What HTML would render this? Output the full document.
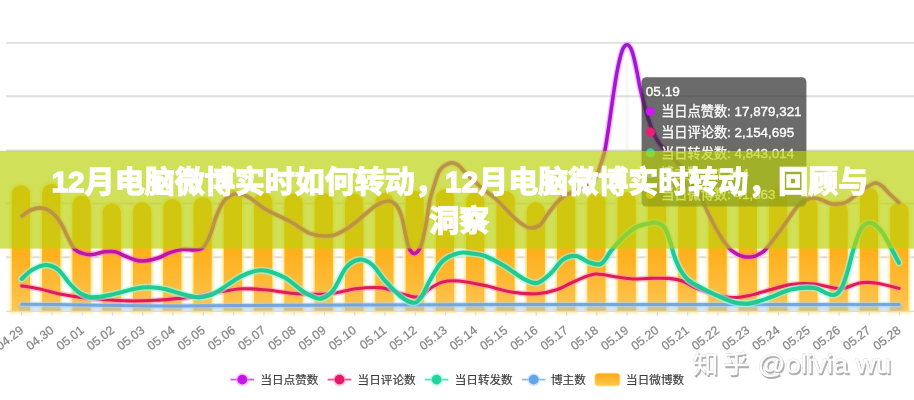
<!DOCTYPE html>
<html lang="zh"><head><meta charset="utf-8"><title>12月电脑微博实时如何转动</title>
<style>html,body{margin:0;padding:0;background:#fff;font-family:"Liberation Sans",sans-serif}body{width:914px;height:400px;overflow:hidden;position:relative}svg{display:block}.sr{position:absolute;left:0;top:150px;width:914px;height:98px;overflow:hidden;opacity:0;color:transparent;font-size:10px;line-height:12px;pointer-events:none}.sr h1,.sr p{margin:0;font-size:10px;font-weight:normal}</style></head><body>
<svg width="914" height="400" viewBox="0 0 914 400" font-family="'Liberation Sans',sans-serif">
<defs>
<linearGradient id="bar" x1="0" y1="0" x2="0" y2="1"><stop offset="0" stop-color="#ffad18"/><stop offset="0.55" stop-color="#ffb11e"/><stop offset="0.82" stop-color="#fdbc3c"/><stop offset="1" stop-color="#fcc858"/></linearGradient>
<linearGradient id="lg" x1="0" y1="0" x2="0" y2="1"><stop offset="0" stop-color="#ffa91a"/><stop offset="1" stop-color="#ffc84a"/></linearGradient>
<linearGradient id="pg" gradientUnits="userSpaceOnUse" x1="0" y1="44" x2="0" y2="262"><stop offset="0" stop-color="#961cd4"/><stop offset="0.45" stop-color="#a618c8"/><stop offset="0.72" stop-color="#b814ac"/><stop offset="1" stop-color="#bc14a4"/></linearGradient>
<filter id="bl" x="-2%" y="-2%" width="104%" height="104%"><feGaussianBlur stdDeviation="0.75"/></filter>
<filter id="bl2" x="-5%" y="-20%" width="110%" height="140%"><feGaussianBlur stdDeviation="1.6"/></filter>
<filter id="tb" x="-2%" y="-10%" width="104%" height="120%"><feGaussianBlur stdDeviation="0.35"/></filter>
</defs>
<rect width="914" height="400" fill="#fff"/>
<g filter="url(#bl)">
<line x1="6" x2="914" y1="42.9" y2="42.9" stroke="#dedede" stroke-width="1.9"/>
<line x1="6" x2="914" y1="96.2" y2="96.2" stroke="#dedede" stroke-width="1.9"/>
<line x1="6" x2="914" y1="150.5" y2="150.5" stroke="#dedede" stroke-width="1.9"/>
<line x1="6" x2="914" y1="203.5" y2="203.5" stroke="#dedede" stroke-width="1.9"/>
<line x1="6" x2="914" y1="257.2" y2="257.2" stroke="#dedede" stroke-width="1.9"/>
<path d="M11.8 311.3V194.3A9.1 9.1 0 0 1 30.0 194.3V311.3ZM42.1 311.3V193.0A9.1 9.1 0 0 1 60.3 193.0V311.3ZM72.4 311.3V204.7A9.1 9.1 0 0 1 90.6 204.7V311.3ZM102.7 311.3V212.6A9.1 9.1 0 0 1 120.9 212.6V311.3ZM133.0 311.3V211.4A9.1 9.1 0 0 1 151.2 211.4V311.3ZM163.2 311.3V208.1A9.1 9.1 0 0 1 181.4 208.1V311.3ZM193.5 311.3V206.3A9.1 9.1 0 0 1 211.7 206.3V311.3ZM223.8 311.3V199.1A9.1 9.1 0 0 1 242.0 199.1V311.3ZM254.1 311.3V201.6A9.1 9.1 0 0 1 272.3 201.6V311.3ZM284.4 311.3V202.6A9.1 9.1 0 0 1 302.6 202.6V311.3ZM314.7 311.3V202.1A9.1 9.1 0 0 1 332.9 202.1V311.3ZM345.0 311.3V202.6A9.1 9.1 0 0 1 363.2 202.6V311.3ZM375.3 311.3V201.6A9.1 9.1 0 0 1 393.5 201.6V311.3ZM405.6 311.3V200.1A9.1 9.1 0 0 1 423.8 200.1V311.3ZM435.9 311.3V198.1A9.1 9.1 0 0 1 454.1 198.1V311.3ZM466.1 311.3V201.1A9.1 9.1 0 0 1 484.3 201.1V311.3ZM496.4 311.3V200.1A9.1 9.1 0 0 1 514.6 200.1V311.3ZM526.7 311.3V211.4A9.1 9.1 0 0 1 544.9 211.4V311.3ZM557.0 311.3V202.1A9.1 9.1 0 0 1 575.2 202.1V311.3ZM587.3 311.3V202.1A9.1 9.1 0 0 1 605.5 202.1V311.3ZM617.6 311.3V201.1A9.1 9.1 0 0 1 635.8 201.1V311.3ZM647.9 311.3V199.1A9.1 9.1 0 0 1 666.1 199.1V311.3ZM678.2 311.3V204.1A9.1 9.1 0 0 1 696.4 204.1V311.3ZM708.5 311.3V206.1A9.1 9.1 0 0 1 726.7 206.1V311.3ZM738.8 311.3V202.1A9.1 9.1 0 0 1 757.0 202.1V311.3ZM769.0 311.3V197.1A9.1 9.1 0 0 1 787.2 197.1V311.3ZM799.3 311.3V206.8A9.1 9.1 0 0 1 817.5 206.8V311.3ZM829.6 311.3V210.6A9.1 9.1 0 0 1 847.8 210.6V311.3ZM859.9 311.3V196.6A9.1 9.1 0 0 1 878.1 196.6V311.3ZM890.2 311.3V211.1A9.1 9.1 0 0 1 908.4 211.1V311.3Z" fill="none" stroke="#fff3c4" stroke-opacity="0.5" stroke-width="7"/>
<path d="M11.8 311.3V194.3A9.1 9.1 0 0 1 30.0 194.3V311.3ZM42.1 311.3V193.0A9.1 9.1 0 0 1 60.3 193.0V311.3ZM72.4 311.3V204.7A9.1 9.1 0 0 1 90.6 204.7V311.3ZM102.7 311.3V212.6A9.1 9.1 0 0 1 120.9 212.6V311.3ZM133.0 311.3V211.4A9.1 9.1 0 0 1 151.2 211.4V311.3ZM163.2 311.3V208.1A9.1 9.1 0 0 1 181.4 208.1V311.3ZM193.5 311.3V206.3A9.1 9.1 0 0 1 211.7 206.3V311.3ZM223.8 311.3V199.1A9.1 9.1 0 0 1 242.0 199.1V311.3ZM254.1 311.3V201.6A9.1 9.1 0 0 1 272.3 201.6V311.3ZM284.4 311.3V202.6A9.1 9.1 0 0 1 302.6 202.6V311.3ZM314.7 311.3V202.1A9.1 9.1 0 0 1 332.9 202.1V311.3ZM345.0 311.3V202.6A9.1 9.1 0 0 1 363.2 202.6V311.3ZM375.3 311.3V201.6A9.1 9.1 0 0 1 393.5 201.6V311.3ZM405.6 311.3V200.1A9.1 9.1 0 0 1 423.8 200.1V311.3ZM435.9 311.3V198.1A9.1 9.1 0 0 1 454.1 198.1V311.3ZM466.1 311.3V201.1A9.1 9.1 0 0 1 484.3 201.1V311.3ZM496.4 311.3V200.1A9.1 9.1 0 0 1 514.6 200.1V311.3ZM526.7 311.3V211.4A9.1 9.1 0 0 1 544.9 211.4V311.3ZM557.0 311.3V202.1A9.1 9.1 0 0 1 575.2 202.1V311.3ZM587.3 311.3V202.1A9.1 9.1 0 0 1 605.5 202.1V311.3ZM617.6 311.3V201.1A9.1 9.1 0 0 1 635.8 201.1V311.3ZM647.9 311.3V199.1A9.1 9.1 0 0 1 666.1 199.1V311.3ZM678.2 311.3V204.1A9.1 9.1 0 0 1 696.4 204.1V311.3ZM708.5 311.3V206.1A9.1 9.1 0 0 1 726.7 206.1V311.3ZM738.8 311.3V202.1A9.1 9.1 0 0 1 757.0 202.1V311.3ZM769.0 311.3V197.1A9.1 9.1 0 0 1 787.2 197.1V311.3ZM799.3 311.3V206.8A9.1 9.1 0 0 1 817.5 206.8V311.3ZM829.6 311.3V210.6A9.1 9.1 0 0 1 847.8 210.6V311.3ZM859.9 311.3V196.6A9.1 9.1 0 0 1 878.1 196.6V311.3ZM890.2 311.3V211.1A9.1 9.1 0 0 1 908.4 211.1V311.3Z" fill="none" stroke="#ffe98a" stroke-opacity="0.7" stroke-width="3"/>
<path d="M11.8 311.3V194.3A9.1 9.1 0 0 1 30.0 194.3V311.3ZM42.1 311.3V193.0A9.1 9.1 0 0 1 60.3 193.0V311.3ZM72.4 311.3V204.7A9.1 9.1 0 0 1 90.6 204.7V311.3ZM102.7 311.3V212.6A9.1 9.1 0 0 1 120.9 212.6V311.3ZM133.0 311.3V211.4A9.1 9.1 0 0 1 151.2 211.4V311.3ZM163.2 311.3V208.1A9.1 9.1 0 0 1 181.4 208.1V311.3ZM193.5 311.3V206.3A9.1 9.1 0 0 1 211.7 206.3V311.3ZM223.8 311.3V199.1A9.1 9.1 0 0 1 242.0 199.1V311.3ZM254.1 311.3V201.6A9.1 9.1 0 0 1 272.3 201.6V311.3ZM284.4 311.3V202.6A9.1 9.1 0 0 1 302.6 202.6V311.3ZM314.7 311.3V202.1A9.1 9.1 0 0 1 332.9 202.1V311.3ZM345.0 311.3V202.6A9.1 9.1 0 0 1 363.2 202.6V311.3ZM375.3 311.3V201.6A9.1 9.1 0 0 1 393.5 201.6V311.3ZM405.6 311.3V200.1A9.1 9.1 0 0 1 423.8 200.1V311.3ZM435.9 311.3V198.1A9.1 9.1 0 0 1 454.1 198.1V311.3ZM466.1 311.3V201.1A9.1 9.1 0 0 1 484.3 201.1V311.3ZM496.4 311.3V200.1A9.1 9.1 0 0 1 514.6 200.1V311.3ZM526.7 311.3V211.4A9.1 9.1 0 0 1 544.9 211.4V311.3ZM557.0 311.3V202.1A9.1 9.1 0 0 1 575.2 202.1V311.3ZM587.3 311.3V202.1A9.1 9.1 0 0 1 605.5 202.1V311.3ZM617.6 311.3V201.1A9.1 9.1 0 0 1 635.8 201.1V311.3ZM647.9 311.3V199.1A9.1 9.1 0 0 1 666.1 199.1V311.3ZM678.2 311.3V204.1A9.1 9.1 0 0 1 696.4 204.1V311.3ZM708.5 311.3V206.1A9.1 9.1 0 0 1 726.7 206.1V311.3ZM738.8 311.3V202.1A9.1 9.1 0 0 1 757.0 202.1V311.3ZM769.0 311.3V197.1A9.1 9.1 0 0 1 787.2 197.1V311.3ZM799.3 311.3V206.8A9.1 9.1 0 0 1 817.5 206.8V311.3ZM829.6 311.3V210.6A9.1 9.1 0 0 1 847.8 210.6V311.3ZM859.9 311.3V196.6A9.1 9.1 0 0 1 878.1 196.6V311.3ZM890.2 311.3V211.1A9.1 9.1 0 0 1 908.4 211.1V311.3Z" fill="url(#bar)"/>
<line x1="6" x2="914" y1="203.5" y2="203.5" stroke="#c9b27a" stroke-opacity="0.07" stroke-width="1.2"/>
<line x1="6" x2="914" y1="257.2" y2="257.2" stroke="#c9b27a" stroke-opacity="0.07" stroke-width="1.2"/>
<line x1="6" x2="914" y1="311.3" y2="311.3" stroke="#e4dcc8" stroke-width="1.3"/>
<path d="M21.7 311.3v4.4M52.0 311.3v4.4M82.2 311.3v4.4M112.5 311.3v4.4M142.8 311.3v4.4M173.0 311.3v4.4M203.3 311.3v4.4M233.6 311.3v4.4M263.9 311.3v4.4M294.1 311.3v4.4M324.4 311.3v4.4M354.7 311.3v4.4M384.9 311.3v4.4M415.2 311.3v4.4M445.5 311.3v4.4M475.8 311.3v4.4M506.0 311.3v4.4M536.3 311.3v4.4M566.6 311.3v4.4M596.8 311.3v4.4M627.1 311.3v4.4M657.4 311.3v4.4M687.6 311.3v4.4M717.9 311.3v4.4M748.2 311.3v4.4M778.5 311.3v4.4M808.7 311.3v4.4M839.0 311.3v4.4M869.3 311.3v4.4M899.5 311.3v4.4" stroke="#d9d9d9" stroke-width="1.2" fill="none"/>
<path d="M21.7 307.2H899" fill="none" stroke="#7fb2ee" stroke-opacity="0.33" stroke-width="7" stroke-linecap="round"/>
<path d="M21.7 304.2C28.1 304.3 47.0 304.4 60.0 304.6C73.0 304.8 83.3 305.1 100.0 305.3C116.7 305.5 138.3 305.9 160.0 306.0C181.7 306.1 198.3 305.8 230.0 305.6C261.7 305.4 305.0 305.2 350.0 305.0C395.0 304.8 450.0 304.6 500.0 304.5C550.0 304.4 603.3 304.5 650.0 304.5C696.7 304.5 738.5 304.6 780.0 304.6C821.5 304.6 879.2 304.6 899.0 304.6" fill="none" stroke="#a8d4ff" stroke-opacity="0.55" stroke-width="5.6" stroke-linecap="round" stroke-linejoin="round"/>
<path d="M21.7 304.2C28.1 304.3 47.0 304.4 60.0 304.6C73.0 304.8 83.3 305.1 100.0 305.3C116.7 305.5 138.3 305.9 160.0 306.0C181.7 306.1 198.3 305.8 230.0 305.6C261.7 305.4 305.0 305.2 350.0 305.0C395.0 304.8 450.0 304.6 500.0 304.5C550.0 304.4 603.3 304.5 650.0 304.5C696.7 304.5 738.5 304.6 780.0 304.6C821.5 304.6 879.2 304.6 899.0 304.6" fill="none" stroke="#6a9fdc" stroke-opacity="0.85" stroke-width="3.0" stroke-linecap="round" stroke-linejoin="round"/>
<path d="M21.7 285.9C24.8 286.4 33.9 287.7 40.0 289.0C46.1 290.3 52.2 292.4 58.5 293.7C64.8 295.0 71.1 296.1 78.0 297.0C84.9 297.9 91.7 298.7 100.0 299.3C108.3 299.9 118.7 300.7 128.0 300.9C137.3 301.1 147.6 300.7 156.0 300.3C164.4 299.9 172.2 298.9 178.7 298.4C185.2 297.8 188.2 298.1 195.0 297.0C201.8 295.9 211.7 293.4 219.5 292.0C227.3 290.6 234.4 289.2 242.0 288.8C249.6 288.4 255.8 289.0 265.0 289.8C274.2 290.6 286.7 293.1 297.5 293.7C308.3 294.3 320.2 294.5 330.0 293.7C339.8 292.9 347.3 289.8 356.0 288.8C364.7 287.8 374.4 287.1 382.0 287.9C389.6 288.7 396.0 292.2 401.4 293.7C406.8 295.2 411.0 296.6 414.4 297.0C417.8 297.4 419.4 297.4 422.0 296.0C424.6 294.6 426.2 291.1 429.7 288.8C433.1 286.5 437.8 283.3 442.7 282.0C447.6 280.7 451.9 280.4 459.0 281.0C466.1 281.6 476.3 283.8 485.0 285.6C493.7 287.4 502.3 290.6 511.0 292.0C519.7 293.4 529.4 294.1 537.0 293.7C544.6 293.3 550.0 292.0 556.5 289.8C563.0 287.6 569.5 283.3 576.0 280.7C582.5 278.1 588.6 274.6 595.4 274.0C602.1 273.4 610.2 276.2 616.5 277.0C622.8 277.8 627.5 278.8 633.0 279.0C638.5 279.2 643.5 278.5 649.5 278.4C655.5 278.3 663.2 278.0 668.7 278.4C674.2 278.8 678.0 279.4 682.5 281.0C687.0 282.6 690.5 285.7 696.0 288.0C701.5 290.3 709.5 293.2 715.5 294.8C721.5 296.4 726.5 297.5 732.0 297.6C737.5 297.8 743.0 296.8 748.5 295.7C754.0 294.6 757.9 293.1 765.0 291.3C772.1 289.5 782.8 285.8 791.0 284.6C799.2 283.4 805.8 283.3 814.0 284.0C822.2 284.7 832.4 289.0 840.0 288.8C847.6 288.6 853.5 284.0 859.5 283.0C865.5 282.0 869.1 282.1 875.7 283.0C882.3 283.9 895.1 287.4 899.0 288.3" fill="none" stroke="#ff8ab8" stroke-opacity="0.5" stroke-width="5.8" stroke-linecap="round" stroke-linejoin="round"/>
<path d="M21.7 285.9C24.8 286.4 33.9 287.7 40.0 289.0C46.1 290.3 52.2 292.4 58.5 293.7C64.8 295.0 71.1 296.1 78.0 297.0C84.9 297.9 91.7 298.7 100.0 299.3C108.3 299.9 118.7 300.7 128.0 300.9C137.3 301.1 147.6 300.7 156.0 300.3C164.4 299.9 172.2 298.9 178.7 298.4C185.2 297.8 188.2 298.1 195.0 297.0C201.8 295.9 211.7 293.4 219.5 292.0C227.3 290.6 234.4 289.2 242.0 288.8C249.6 288.4 255.8 289.0 265.0 289.8C274.2 290.6 286.7 293.1 297.5 293.7C308.3 294.3 320.2 294.5 330.0 293.7C339.8 292.9 347.3 289.8 356.0 288.8C364.7 287.8 374.4 287.1 382.0 287.9C389.6 288.7 396.0 292.2 401.4 293.7C406.8 295.2 411.0 296.6 414.4 297.0C417.8 297.4 419.4 297.4 422.0 296.0C424.6 294.6 426.2 291.1 429.7 288.8C433.1 286.5 437.8 283.3 442.7 282.0C447.6 280.7 451.9 280.4 459.0 281.0C466.1 281.6 476.3 283.8 485.0 285.6C493.7 287.4 502.3 290.6 511.0 292.0C519.7 293.4 529.4 294.1 537.0 293.7C544.6 293.3 550.0 292.0 556.5 289.8C563.0 287.6 569.5 283.3 576.0 280.7C582.5 278.1 588.6 274.6 595.4 274.0C602.1 273.4 610.2 276.2 616.5 277.0C622.8 277.8 627.5 278.8 633.0 279.0C638.5 279.2 643.5 278.5 649.5 278.4C655.5 278.3 663.2 278.0 668.7 278.4C674.2 278.8 678.0 279.4 682.5 281.0C687.0 282.6 690.5 285.7 696.0 288.0C701.5 290.3 709.5 293.2 715.5 294.8C721.5 296.4 726.5 297.5 732.0 297.6C737.5 297.8 743.0 296.8 748.5 295.7C754.0 294.6 757.9 293.1 765.0 291.3C772.1 289.5 782.8 285.8 791.0 284.6C799.2 283.4 805.8 283.3 814.0 284.0C822.2 284.7 832.4 289.0 840.0 288.8C847.6 288.6 853.5 284.0 859.5 283.0C865.5 282.0 869.1 282.1 875.7 283.0C882.3 283.9 895.1 287.4 899.0 288.3" fill="none" stroke="#e01a55" stroke-opacity="1" stroke-width="3.1" stroke-linecap="round" stroke-linejoin="round"/>
<path d="M21.7 279.0C23.4 277.5 28.0 272.3 32.0 270.0C36.0 267.7 41.5 265.3 45.5 265.0C49.5 264.7 53.1 266.3 56.0 268.0C58.9 269.7 60.7 272.3 63.0 275.0C65.3 277.7 67.4 281.1 70.0 284.0C72.6 286.9 76.1 290.3 78.8 292.3C81.5 294.3 83.8 295.2 86.0 296.0C88.2 296.8 89.7 297.1 92.0 297.2C94.3 297.3 97.0 297.2 100.0 296.8C103.0 296.4 106.7 295.7 110.0 295.0C113.3 294.3 115.7 293.6 120.0 292.5C124.3 291.4 131.2 289.4 136.0 288.5C140.8 287.6 143.9 287.1 148.7 287.2C153.5 287.3 159.8 287.9 165.0 289.0C170.2 290.1 174.6 292.1 180.0 293.5C185.4 294.9 192.5 297.0 197.5 297.3C202.5 297.6 206.2 296.5 210.0 295.3C213.8 294.1 214.7 293.2 220.0 290.0C225.3 286.8 235.1 279.1 242.0 275.8C248.9 272.5 254.6 270.0 261.7 270.3C268.8 270.6 277.4 273.9 284.5 277.5C291.6 281.1 298.1 288.5 304.0 292.0C309.9 295.5 315.2 298.9 320.0 298.6C324.8 298.4 328.7 295.6 333.0 290.5C337.3 285.4 341.7 272.8 346.0 267.7C350.3 262.6 354.7 260.1 359.0 259.6C363.3 259.1 367.7 261.0 372.0 264.5C376.3 268.0 380.1 275.3 385.0 280.7C389.9 286.1 396.5 293.3 401.4 297.0C406.3 300.7 411.0 303.0 414.4 302.8C417.8 302.6 419.4 299.7 422.0 296.0C424.6 292.3 426.2 286.5 429.7 280.7C433.1 274.9 437.8 265.6 442.7 261.0C447.6 256.4 454.1 254.2 459.0 253.0C463.9 251.8 467.7 253.0 472.0 253.5C476.3 254.0 479.6 253.9 485.0 256.0C490.4 258.1 498.0 262.2 504.5 266.0C511.0 269.8 518.6 276.2 524.0 279.0C529.4 281.8 532.7 283.8 537.0 283.0C541.3 282.2 545.7 277.9 550.0 274.0C554.3 270.1 558.7 262.6 563.0 259.6C567.3 256.6 571.7 255.6 576.0 256.0C580.3 256.4 585.0 260.9 589.0 262.3C593.0 263.7 597.2 264.8 600.0 264.2C602.8 263.6 604.2 260.7 606.0 258.5C607.8 256.3 608.3 254.2 611.0 250.9C613.7 247.6 617.9 242.4 622.0 238.5C626.1 234.6 631.1 230.0 635.7 227.5C640.3 225.0 646.0 224.2 649.5 223.4C653.0 222.6 653.9 222.1 656.4 222.8C658.9 223.5 662.3 224.5 664.6 227.5C666.9 230.5 668.4 236.4 670.0 241.0C671.6 245.6 672.4 250.4 674.0 255.0C675.6 259.6 677.4 264.6 679.7 268.7C682.0 272.8 684.3 276.5 688.0 279.7C691.7 282.9 697.1 285.5 701.7 288.0C706.3 290.5 710.5 292.5 715.5 294.8C720.5 297.1 726.5 300.2 732.0 301.7C737.5 303.2 742.4 304.2 748.5 303.6C754.6 303.0 761.4 300.4 768.5 298.0C775.6 295.6 783.4 291.2 791.0 289.5C798.6 287.8 808.2 287.4 814.0 288.0C819.8 288.6 822.8 291.8 826.0 293.0C829.2 294.2 831.2 295.2 833.4 295.0C835.6 294.8 837.4 293.7 839.0 292.0C840.6 290.3 841.5 288.7 843.0 285.0C844.5 281.3 846.3 275.7 848.0 270.0C849.7 264.3 850.8 257.8 853.0 251.0C855.2 244.2 858.0 233.7 861.0 229.0C864.0 224.3 867.3 222.4 870.8 222.9C874.3 223.4 878.5 227.5 882.0 232.0C885.5 236.5 889.2 244.7 892.0 249.8C894.8 254.9 897.8 260.6 899.0 262.8" fill="none" stroke="#8dfff0" stroke-opacity="0.6" stroke-width="7.2" stroke-linecap="round" stroke-linejoin="round"/>
<path d="M21.7 279.0C23.4 277.5 28.0 272.3 32.0 270.0C36.0 267.7 41.5 265.3 45.5 265.0C49.5 264.7 53.1 266.3 56.0 268.0C58.9 269.7 60.7 272.3 63.0 275.0C65.3 277.7 67.4 281.1 70.0 284.0C72.6 286.9 76.1 290.3 78.8 292.3C81.5 294.3 83.8 295.2 86.0 296.0C88.2 296.8 89.7 297.1 92.0 297.2C94.3 297.3 97.0 297.2 100.0 296.8C103.0 296.4 106.7 295.7 110.0 295.0C113.3 294.3 115.7 293.6 120.0 292.5C124.3 291.4 131.2 289.4 136.0 288.5C140.8 287.6 143.9 287.1 148.7 287.2C153.5 287.3 159.8 287.9 165.0 289.0C170.2 290.1 174.6 292.1 180.0 293.5C185.4 294.9 192.5 297.0 197.5 297.3C202.5 297.6 206.2 296.5 210.0 295.3C213.8 294.1 214.7 293.2 220.0 290.0C225.3 286.8 235.1 279.1 242.0 275.8C248.9 272.5 254.6 270.0 261.7 270.3C268.8 270.6 277.4 273.9 284.5 277.5C291.6 281.1 298.1 288.5 304.0 292.0C309.9 295.5 315.2 298.9 320.0 298.6C324.8 298.4 328.7 295.6 333.0 290.5C337.3 285.4 341.7 272.8 346.0 267.7C350.3 262.6 354.7 260.1 359.0 259.6C363.3 259.1 367.7 261.0 372.0 264.5C376.3 268.0 380.1 275.3 385.0 280.7C389.9 286.1 396.5 293.3 401.4 297.0C406.3 300.7 411.0 303.0 414.4 302.8C417.8 302.6 419.4 299.7 422.0 296.0C424.6 292.3 426.2 286.5 429.7 280.7C433.1 274.9 437.8 265.6 442.7 261.0C447.6 256.4 454.1 254.2 459.0 253.0C463.9 251.8 467.7 253.0 472.0 253.5C476.3 254.0 479.6 253.9 485.0 256.0C490.4 258.1 498.0 262.2 504.5 266.0C511.0 269.8 518.6 276.2 524.0 279.0C529.4 281.8 532.7 283.8 537.0 283.0C541.3 282.2 545.7 277.9 550.0 274.0C554.3 270.1 558.7 262.6 563.0 259.6C567.3 256.6 571.7 255.6 576.0 256.0C580.3 256.4 585.0 260.9 589.0 262.3C593.0 263.7 597.2 264.8 600.0 264.2C602.8 263.6 604.2 260.7 606.0 258.5C607.8 256.3 608.3 254.2 611.0 250.9C613.7 247.6 617.9 242.4 622.0 238.5C626.1 234.6 631.1 230.0 635.7 227.5C640.3 225.0 646.0 224.2 649.5 223.4C653.0 222.6 653.9 222.1 656.4 222.8C658.9 223.5 662.3 224.5 664.6 227.5C666.9 230.5 668.4 236.4 670.0 241.0C671.6 245.6 672.4 250.4 674.0 255.0C675.6 259.6 677.4 264.6 679.7 268.7C682.0 272.8 684.3 276.5 688.0 279.7C691.7 282.9 697.1 285.5 701.7 288.0C706.3 290.5 710.5 292.5 715.5 294.8C720.5 297.1 726.5 300.2 732.0 301.7C737.5 303.2 742.4 304.2 748.5 303.6C754.6 303.0 761.4 300.4 768.5 298.0C775.6 295.6 783.4 291.2 791.0 289.5C798.6 287.8 808.2 287.4 814.0 288.0C819.8 288.6 822.8 291.8 826.0 293.0C829.2 294.2 831.2 295.2 833.4 295.0C835.6 294.8 837.4 293.7 839.0 292.0C840.6 290.3 841.5 288.7 843.0 285.0C844.5 281.3 846.3 275.7 848.0 270.0C849.7 264.3 850.8 257.8 853.0 251.0C855.2 244.2 858.0 233.7 861.0 229.0C864.0 224.3 867.3 222.4 870.8 222.9C874.3 223.4 878.5 227.5 882.0 232.0C885.5 236.5 889.2 244.7 892.0 249.8C894.8 254.9 897.8 260.6 899.0 262.8" fill="none" stroke="#22c990" stroke-opacity="1" stroke-width="4.1" stroke-linecap="round" stroke-linejoin="round"/>
<path d="M22.0 216.0C23.5 215.0 27.8 211.3 31.0 210.0C34.2 208.7 38.0 207.6 41.5 208.0C45.0 208.4 48.8 210.0 52.0 212.5C55.2 215.0 58.1 218.9 60.7 223.0C63.3 227.1 65.4 232.6 67.7 237.0C70.0 241.4 72.1 246.4 74.7 249.2C77.3 252.0 80.6 252.7 83.5 253.6C86.4 254.5 88.7 254.8 92.2 254.5C95.7 254.2 100.7 252.2 104.5 251.8C108.3 251.4 111.5 251.1 115.0 251.8C118.5 252.5 122.2 254.9 125.4 256.2C128.6 257.5 131.1 258.7 134.0 259.5C136.9 260.3 139.0 261.2 143.0 261.0C147.0 260.8 153.7 259.3 158.0 258.0C162.3 256.7 165.0 254.4 169.0 253.0C173.0 251.6 176.7 250.2 182.0 249.5C187.3 248.8 196.4 251.2 201.0 249.0C205.6 246.8 207.2 241.3 209.7 236.0C212.2 230.7 213.8 222.6 216.0 217.0C218.2 211.4 220.4 206.2 222.7 202.7C225.0 199.2 227.3 197.5 230.0 196.0C232.7 194.5 235.7 193.3 239.0 193.6C242.3 193.9 245.7 195.4 250.0 198.0C254.3 200.6 258.2 205.0 265.0 209.0C271.8 213.0 283.4 217.9 291.0 222.0C298.6 226.1 304.0 231.3 310.5 233.6C317.0 235.9 324.6 236.3 330.0 235.9C335.4 235.5 338.7 233.3 343.0 231.0C347.3 228.7 350.6 226.2 356.0 222.0C361.4 217.8 370.0 209.5 375.4 206.0C380.8 202.5 385.0 201.2 388.4 201.0C391.8 200.8 393.8 202.6 396.0 205.0C398.2 207.4 399.9 211.2 401.4 215.7C402.9 220.2 404.0 227.4 405.0 232.0C406.0 236.6 406.7 240.0 407.5 243.0C408.3 246.0 408.9 248.2 410.0 250.0C411.1 251.8 412.8 253.5 414.2 253.6C415.6 253.7 417.3 252.1 418.5 250.5C419.7 248.9 420.5 247.1 421.5 244.0C422.5 240.9 423.6 236.3 424.5 232.0C425.4 227.7 426.1 223.4 427.0 218.0C427.9 212.6 428.8 204.8 430.0 199.5C431.2 194.2 432.3 190.9 434.0 186.0C435.7 181.1 437.3 173.8 440.0 170.0C442.7 166.2 447.3 163.8 450.3 163.0C453.3 162.2 455.5 163.4 458.0 165.0C460.5 166.6 461.2 168.7 465.4 172.7C469.6 176.7 477.9 184.6 483.0 189.0C488.1 193.4 491.0 194.4 496.0 199.0C501.0 203.6 508.3 212.1 513.0 216.5C517.7 220.9 520.9 223.6 524.0 225.5C527.1 227.4 528.8 228.1 531.5 228.0C534.2 227.9 537.3 227.2 540.0 225.0C542.7 222.8 544.7 218.2 547.5 214.5C550.3 210.8 553.9 205.8 557.0 202.5C560.1 199.2 562.2 197.2 566.0 195.0C569.8 192.8 575.7 191.0 580.0 189.0C584.3 187.0 589.0 185.8 592.0 183.0C595.0 180.2 596.4 175.5 598.0 172.0C599.6 168.5 600.3 165.7 601.5 162.0C602.7 158.3 603.8 156.2 605.0 150.0C606.2 143.8 607.7 133.8 609.0 125.0C610.3 116.2 611.7 105.7 613.0 97.0C614.3 88.3 615.6 79.7 616.8 73.0C618.0 66.3 619.2 61.1 620.3 57.0C621.4 52.9 622.2 50.2 623.3 48.2C624.4 46.2 625.8 44.8 627.0 44.8C628.2 44.8 629.6 46.2 630.7 48.2C631.8 50.2 632.6 52.9 633.7 57.0C634.8 61.1 636.0 67.2 637.2 73.0C638.4 78.8 639.1 84.2 641.0 92.0C642.9 99.8 646.1 112.0 648.5 119.5C650.9 127.0 653.2 132.3 655.5 137.0C657.8 141.7 659.2 143.7 662.5 147.5C665.8 151.3 670.4 154.9 675.0 160.0C679.6 165.1 685.8 172.3 690.0 178.0C694.2 183.7 697.4 189.0 700.0 194.0C702.6 199.0 703.2 202.4 705.8 208.0C708.4 213.6 712.5 222.0 715.5 227.5C718.5 233.0 721.0 237.1 723.7 241.0C726.5 244.9 728.8 248.3 732.0 250.9C735.2 253.5 739.3 255.5 743.0 256.4C746.7 257.3 751.2 256.9 754.0 256.4C756.8 255.9 758.0 254.8 760.0 253.6C762.0 252.4 762.4 253.2 766.0 249.0C769.6 244.8 776.2 235.9 781.5 228.7C786.8 221.5 793.6 210.8 797.7 206.0C801.8 201.2 803.3 201.3 806.0 200.0C808.7 198.7 811.3 198.0 814.0 198.0C816.7 198.0 819.3 199.1 822.0 200.0C824.7 200.9 827.3 202.8 830.0 203.5C832.7 204.2 835.2 204.2 838.0 204.0C840.8 203.8 843.5 203.5 846.5 202.0C849.5 200.5 852.8 197.4 856.0 195.0C859.2 192.6 862.7 189.5 866.0 187.5C869.3 185.5 873.0 183.2 875.7 183.0C878.4 182.8 879.8 184.3 882.0 186.0C884.2 187.7 885.9 190.2 888.7 193.0C891.5 195.8 897.3 201.1 899.0 202.7" fill="none" stroke="#ff5cff" stroke-opacity="0.45" stroke-width="6.2" stroke-linecap="round" stroke-linejoin="round"/>
<path d="M22.0 216.0C23.5 215.0 27.8 211.3 31.0 210.0C34.2 208.7 38.0 207.6 41.5 208.0C45.0 208.4 48.8 210.0 52.0 212.5C55.2 215.0 58.1 218.9 60.7 223.0C63.3 227.1 65.4 232.6 67.7 237.0C70.0 241.4 72.1 246.4 74.7 249.2C77.3 252.0 80.6 252.7 83.5 253.6C86.4 254.5 88.7 254.8 92.2 254.5C95.7 254.2 100.7 252.2 104.5 251.8C108.3 251.4 111.5 251.1 115.0 251.8C118.5 252.5 122.2 254.9 125.4 256.2C128.6 257.5 131.1 258.7 134.0 259.5C136.9 260.3 139.0 261.2 143.0 261.0C147.0 260.8 153.7 259.3 158.0 258.0C162.3 256.7 165.0 254.4 169.0 253.0C173.0 251.6 176.7 250.2 182.0 249.5C187.3 248.8 196.4 251.2 201.0 249.0C205.6 246.8 207.2 241.3 209.7 236.0C212.2 230.7 213.8 222.6 216.0 217.0C218.2 211.4 220.4 206.2 222.7 202.7C225.0 199.2 227.3 197.5 230.0 196.0C232.7 194.5 235.7 193.3 239.0 193.6C242.3 193.9 245.7 195.4 250.0 198.0C254.3 200.6 258.2 205.0 265.0 209.0C271.8 213.0 283.4 217.9 291.0 222.0C298.6 226.1 304.0 231.3 310.5 233.6C317.0 235.9 324.6 236.3 330.0 235.9C335.4 235.5 338.7 233.3 343.0 231.0C347.3 228.7 350.6 226.2 356.0 222.0C361.4 217.8 370.0 209.5 375.4 206.0C380.8 202.5 385.0 201.2 388.4 201.0C391.8 200.8 393.8 202.6 396.0 205.0C398.2 207.4 399.9 211.2 401.4 215.7C402.9 220.2 404.0 227.4 405.0 232.0C406.0 236.6 406.7 240.0 407.5 243.0C408.3 246.0 408.9 248.2 410.0 250.0C411.1 251.8 412.8 253.5 414.2 253.6C415.6 253.7 417.3 252.1 418.5 250.5C419.7 248.9 420.5 247.1 421.5 244.0C422.5 240.9 423.6 236.3 424.5 232.0C425.4 227.7 426.1 223.4 427.0 218.0C427.9 212.6 428.8 204.8 430.0 199.5C431.2 194.2 432.3 190.9 434.0 186.0C435.7 181.1 437.3 173.8 440.0 170.0C442.7 166.2 447.3 163.8 450.3 163.0C453.3 162.2 455.5 163.4 458.0 165.0C460.5 166.6 461.2 168.7 465.4 172.7C469.6 176.7 477.9 184.6 483.0 189.0C488.1 193.4 491.0 194.4 496.0 199.0C501.0 203.6 508.3 212.1 513.0 216.5C517.7 220.9 520.9 223.6 524.0 225.5C527.1 227.4 528.8 228.1 531.5 228.0C534.2 227.9 537.3 227.2 540.0 225.0C542.7 222.8 544.7 218.2 547.5 214.5C550.3 210.8 553.9 205.8 557.0 202.5C560.1 199.2 562.2 197.2 566.0 195.0C569.8 192.8 575.7 191.0 580.0 189.0C584.3 187.0 589.0 185.8 592.0 183.0C595.0 180.2 596.4 175.5 598.0 172.0C599.6 168.5 600.3 165.7 601.5 162.0C602.7 158.3 603.8 156.2 605.0 150.0C606.2 143.8 607.7 133.8 609.0 125.0C610.3 116.2 611.7 105.7 613.0 97.0C614.3 88.3 615.6 79.7 616.8 73.0C618.0 66.3 619.2 61.1 620.3 57.0C621.4 52.9 622.2 50.2 623.3 48.2C624.4 46.2 625.8 44.8 627.0 44.8C628.2 44.8 629.6 46.2 630.7 48.2C631.8 50.2 632.6 52.9 633.7 57.0C634.8 61.1 636.0 67.2 637.2 73.0C638.4 78.8 639.1 84.2 641.0 92.0C642.9 99.8 646.1 112.0 648.5 119.5C650.9 127.0 653.2 132.3 655.5 137.0C657.8 141.7 659.2 143.7 662.5 147.5C665.8 151.3 670.4 154.9 675.0 160.0C679.6 165.1 685.8 172.3 690.0 178.0C694.2 183.7 697.4 189.0 700.0 194.0C702.6 199.0 703.2 202.4 705.8 208.0C708.4 213.6 712.5 222.0 715.5 227.5C718.5 233.0 721.0 237.1 723.7 241.0C726.5 244.9 728.8 248.3 732.0 250.9C735.2 253.5 739.3 255.5 743.0 256.4C746.7 257.3 751.2 256.9 754.0 256.4C756.8 255.9 758.0 254.8 760.0 253.6C762.0 252.4 762.4 253.2 766.0 249.0C769.6 244.8 776.2 235.9 781.5 228.7C786.8 221.5 793.6 210.8 797.7 206.0C801.8 201.2 803.3 201.3 806.0 200.0C808.7 198.7 811.3 198.0 814.0 198.0C816.7 198.0 819.3 199.1 822.0 200.0C824.7 200.9 827.3 202.8 830.0 203.5C832.7 204.2 835.2 204.2 838.0 204.0C840.8 203.8 843.5 203.5 846.5 202.0C849.5 200.5 852.8 197.4 856.0 195.0C859.2 192.6 862.7 189.5 866.0 187.5C869.3 185.5 873.0 183.2 875.7 183.0C878.4 182.8 879.8 184.3 882.0 186.0C884.2 187.7 885.9 190.2 888.7 193.0C891.5 195.8 897.3 201.1 899.0 202.7" fill="none" stroke="url(#pg)" stroke-opacity="1" stroke-width="3.6" stroke-linecap="round" stroke-linejoin="round"/>
<line x1="627" x2="627" y1="60" y2="150" stroke="#bbb" stroke-opacity="0.10" stroke-width="3"/>
<text transform="translate(24.4 331.9) rotate(-37.5)" text-anchor="end" font-size="12.3" fill="#888" stroke="#888" stroke-width="0.25">04.29</text>
<text transform="translate(54.6 331.9) rotate(-37.5)" text-anchor="end" font-size="12.3" fill="#888" stroke="#888" stroke-width="0.25">04.30</text>
<text transform="translate(84.9 331.9) rotate(-37.5)" text-anchor="end" font-size="12.3" fill="#888" stroke="#888" stroke-width="0.25">05.01</text>
<text transform="translate(115.2 331.9) rotate(-37.5)" text-anchor="end" font-size="12.3" fill="#888" stroke="#888" stroke-width="0.25">05.02</text>
<text transform="translate(145.4 331.9) rotate(-37.5)" text-anchor="end" font-size="12.3" fill="#888" stroke="#888" stroke-width="0.25">05.03</text>
<text transform="translate(175.7 331.9) rotate(-37.5)" text-anchor="end" font-size="12.3" fill="#888" stroke="#888" stroke-width="0.25">05.04</text>
<text transform="translate(205.9 331.9) rotate(-37.5)" text-anchor="end" font-size="12.3" fill="#888" stroke="#888" stroke-width="0.25">05.05</text>
<text transform="translate(236.2 331.9) rotate(-37.5)" text-anchor="end" font-size="12.3" fill="#888" stroke="#888" stroke-width="0.25">05.06</text>
<text transform="translate(266.4 331.9) rotate(-37.5)" text-anchor="end" font-size="12.3" fill="#888" stroke="#888" stroke-width="0.25">05.07</text>
<text transform="translate(296.6 331.9) rotate(-37.5)" text-anchor="end" font-size="12.3" fill="#888" stroke="#888" stroke-width="0.25">05.08</text>
<text transform="translate(326.9 331.9) rotate(-37.5)" text-anchor="end" font-size="12.3" fill="#888" stroke="#888" stroke-width="0.25">05.09</text>
<text transform="translate(357.1 331.9) rotate(-37.5)" text-anchor="end" font-size="12.3" fill="#888" stroke="#888" stroke-width="0.25">05.10</text>
<text transform="translate(387.4 331.9) rotate(-37.5)" text-anchor="end" font-size="12.3" fill="#888" stroke="#888" stroke-width="0.25">05.11</text>
<text transform="translate(417.6 331.9) rotate(-37.5)" text-anchor="end" font-size="12.3" fill="#888" stroke="#888" stroke-width="0.25">05.12</text>
<text transform="translate(447.9 331.9) rotate(-37.5)" text-anchor="end" font-size="12.3" fill="#888" stroke="#888" stroke-width="0.25">05.13</text>
<text transform="translate(478.1 331.9) rotate(-37.5)" text-anchor="end" font-size="12.3" fill="#888" stroke="#888" stroke-width="0.25">05.14</text>
<text transform="translate(508.4 331.9) rotate(-37.5)" text-anchor="end" font-size="12.3" fill="#888" stroke="#888" stroke-width="0.25">05.15</text>
<text transform="translate(538.6 331.9) rotate(-37.5)" text-anchor="end" font-size="12.3" fill="#888" stroke="#888" stroke-width="0.25">05.16</text>
<text transform="translate(568.9 331.9) rotate(-37.5)" text-anchor="end" font-size="12.3" fill="#888" stroke="#888" stroke-width="0.25">05.17</text>
<text transform="translate(599.1 331.9) rotate(-37.5)" text-anchor="end" font-size="12.3" fill="#888" stroke="#888" stroke-width="0.25">05.18</text>
<text transform="translate(629.4 331.9) rotate(-37.5)" text-anchor="end" font-size="12.3" fill="#888" stroke="#888" stroke-width="0.25">05.19</text>
<text transform="translate(659.6 331.9) rotate(-37.5)" text-anchor="end" font-size="12.3" fill="#888" stroke="#888" stroke-width="0.25">05.20</text>
<text transform="translate(689.9 331.9) rotate(-37.5)" text-anchor="end" font-size="12.3" fill="#888" stroke="#888" stroke-width="0.25">05.21</text>
<text transform="translate(720.1 331.9) rotate(-37.5)" text-anchor="end" font-size="12.3" fill="#888" stroke="#888" stroke-width="0.25">05.22</text>
<text transform="translate(750.4 331.9) rotate(-37.5)" text-anchor="end" font-size="12.3" fill="#888" stroke="#888" stroke-width="0.25">05.23</text>
<text transform="translate(780.6 331.9) rotate(-37.5)" text-anchor="end" font-size="12.3" fill="#888" stroke="#888" stroke-width="0.25">05.24</text>
<text transform="translate(810.9 331.9) rotate(-37.5)" text-anchor="end" font-size="12.3" fill="#888" stroke="#888" stroke-width="0.25">05.25</text>
<text transform="translate(841.1 331.9) rotate(-37.5)" text-anchor="end" font-size="12.3" fill="#888" stroke="#888" stroke-width="0.25">05.26</text>
<text transform="translate(871.4 331.9) rotate(-37.5)" text-anchor="end" font-size="12.3" fill="#888" stroke="#888" stroke-width="0.25">05.27</text>
<text transform="translate(901.6 331.9) rotate(-37.5)" text-anchor="end" font-size="12.3" fill="#888" stroke="#888" stroke-width="0.25">05.28</text>
<rect x="641.6" y="77.2" width="164.8" height="129.4" rx="4.5" fill="#333" fill-opacity="0.725"/>
<text x="645.8" y="96.0" font-size="13.6" fill="#fff" stroke="#fff" stroke-width="0.35">05.19</text>
<circle cx="650.4" cy="111.5" r="4.6" fill="#c81af0"/>
<text x="661.2" y="116.3" font-size="13.2" font-family="'Liberation Sans','Noto Sans CJK SC',sans-serif" fill="#fff" stroke="#fff" stroke-width="0.3">当日点赞数</text>
<text x="727.1" y="116.3" font-size="13.4" fill="#fff" stroke="#fff" stroke-width="0.35">: 17,879,321</text>
<circle cx="650.4" cy="132.2" r="4.6" fill="#f01a7a"/>
<text x="661.2" y="137.0" font-size="13.2" font-family="'Liberation Sans','Noto Sans CJK SC',sans-serif" fill="#fff" stroke="#fff" stroke-width="0.3">当日评论数</text>
<text x="727.1" y="137.0" font-size="13.4" fill="#fff" stroke="#fff" stroke-width="0.35">: 2,154,695</text>
<circle cx="650.4" cy="152.9" r="4.6" fill="#2ed6a0"/>
<text x="661.2" y="157.7" font-size="13.2" font-family="'Liberation Sans','Noto Sans CJK SC',sans-serif" fill="#fff" stroke="#fff" stroke-width="0.3">当日转发数</text>
<text x="727.1" y="157.7" font-size="13.4" fill="#fff" stroke="#fff" stroke-width="0.35">: 4,843,014</text>
<circle cx="650.4" cy="173.6" r="4.6" fill="#6cb0f0"/>
<text x="660.6" y="178.4" font-size="13.2" font-family="'Liberation Sans','Noto Sans CJK SC',sans-serif" fill="#fff" stroke="#fff" stroke-width="0.3">博主数</text>
<text x="700.5" y="178.4" font-size="13.4" fill="#fff" stroke="#fff" stroke-width="0.35">: 31,204</text>
<circle cx="650.4" cy="194.3" r="4.6" fill="#ffb62a"/>
<text x="661.2" y="199.1" font-size="13.2" font-family="'Liberation Sans','Noto Sans CJK SC',sans-serif" fill="#fff" stroke="#fff" stroke-width="0.3">当日微博数</text>
<text x="727.1" y="199.1" font-size="13.4" fill="#fff" stroke="#fff" stroke-width="0.35">: 41,363</text>
<line x1="230.5" x2="254.1" y1="379.6" y2="379.6" stroke="#c518ea" stroke-width="1.8" stroke-opacity="0.75"/>
<circle cx="242.3" cy="379.6" r="6.4" fill="#f58cff" fill-opacity="0.55"/>
<circle cx="242.3" cy="379.6" r="4.9" fill="#c518ea"/>
<text x="260.4" y="383.8" font-size="11.6" font-family="'Liberation Sans','Noto Sans CJK SC',sans-serif" fill="#3c3c3c" stroke="#3c3c3c" stroke-width="0.2">当日点赞数</text>
<line x1="327.7" x2="351.3" y1="379.6" y2="379.6" stroke="#e8186c" stroke-width="1.8" stroke-opacity="0.75"/>
<circle cx="339.5" cy="379.6" r="6.4" fill="#ff8cba" fill-opacity="0.55"/>
<circle cx="339.5" cy="379.6" r="4.9" fill="#e8186c"/>
<text x="357.6" y="383.8" font-size="11.6" font-family="'Liberation Sans','Noto Sans CJK SC',sans-serif" fill="#3c3c3c" stroke="#3c3c3c" stroke-width="0.2">当日评论数</text>
<line x1="424.8" x2="448.4" y1="379.6" y2="379.6" stroke="#22d4a0" stroke-width="1.8" stroke-opacity="0.75"/>
<circle cx="436.6" cy="379.6" r="6.4" fill="#8ff5dc" fill-opacity="0.55"/>
<circle cx="436.6" cy="379.6" r="4.9" fill="#22d4a0"/>
<text x="454.7" y="383.8" font-size="11.6" font-family="'Liberation Sans','Noto Sans CJK SC',sans-serif" fill="#3c3c3c" stroke="#3c3c3c" stroke-width="0.2">当日转发数</text>
<line x1="521.9" x2="545.5" y1="379.6" y2="379.6" stroke="#62a6ea" stroke-width="1.8" stroke-opacity="0.75"/>
<circle cx="533.7" cy="379.6" r="6.4" fill="#a8d2ff" fill-opacity="0.55"/>
<circle cx="533.7" cy="379.6" r="4.9" fill="#62a6ea"/>
<text x="551.0" y="383.8" font-size="11.6" font-family="'Liberation Sans','Noto Sans CJK SC',sans-serif" fill="#3c3c3c" stroke="#3c3c3c" stroke-width="0.2">博主数</text>
<rect x="594.2" y="372.8" width="26.4" height="13.6" rx="4" fill="#ffe27a" fill-opacity="0.7"/>
<rect x="595.2" y="373.6" width="24.4" height="12" rx="3.2" fill="url(#lg)"/>
<text x="626.1" y="383.8" font-size="11.6" font-family="'Liberation Sans','Noto Sans CJK SC',sans-serif" fill="#3c3c3c" stroke="#3c3c3c" stroke-width="0.2">当日微博数</text>
<g>
<text x="694.1" y="374.5" font-size="25.5" letter-spacing="4.9" font-family="'Liberation Sans','Noto Sans CJK SC',sans-serif" fill="#adadad" stroke="#adadad" stroke-width="0.6">知乎</text>
<text x="758.8" y="374.5" font-size="25.5" fill="#adadad" stroke="#adadad" stroke-width="0.6" textLength="133.5" lengthAdjust="spacingAndGlyphs">@olivia wu</text>
<text x="692.8" y="373.2" font-size="25.5" letter-spacing="4.9" font-family="'Liberation Sans','Noto Sans CJK SC',sans-serif" fill="#dadada" stroke="#dadada" stroke-width="0.8">知乎</text>
<text x="757.5" y="373.2" font-size="25.5" fill="#dadada" stroke="#dadada" stroke-width="0.8" textLength="133.5" lengthAdjust="spacingAndGlyphs">@olivia wu</text>
<text x="692.8" y="373.2" font-size="25.5" letter-spacing="4.9" font-family="'Liberation Sans','Noto Sans CJK SC',sans-serif" fill="#fff" stroke="#fff" stroke-width="0.1">知乎</text>
<text x="757.5" y="373.2" font-size="25.5" fill="#fff" stroke="#fff" stroke-width="0.1" textLength="133.5" lengthAdjust="spacingAndGlyphs">@olivia wu</text>
</g>
</g>
<rect x="0" y="150.8" width="914" height="97.8" fill="#bbd20a" fill-opacity="0.68"/>
<g filter="url(#tb)" fill="#fff" stroke="#fff" stroke-width="1.3" stroke-linejoin="miter">
<text x="459.8" y="191.9" text-anchor="middle" font-size="30" font-weight="bold" font-family="'Liberation Sans','Noto Sans CJK SC',sans-serif">12月电脑微博实时如何转动，12月电脑微博实时转动，回顾与</text>
<text x="459.3" y="231" text-anchor="middle" font-size="30" font-weight="bold" font-family="'Liberation Sans','Noto Sans CJK SC',sans-serif">洞察</text>
</g>
</svg>
<div class="sr"><h1>12月电脑微博实时如何转动，12月电脑微博实时转动，回顾与洞察</h1><p>05.19 当日点赞数: 17,879,321 当日评论数: 2,154,695 当日转发数: 4,843,014 当日微博数: 41,363</p><p>当日点赞数 当日评论数 当日转发数 博主数 当日微博数</p><p>知乎 @olivia wu</p></div>
</body></html>
